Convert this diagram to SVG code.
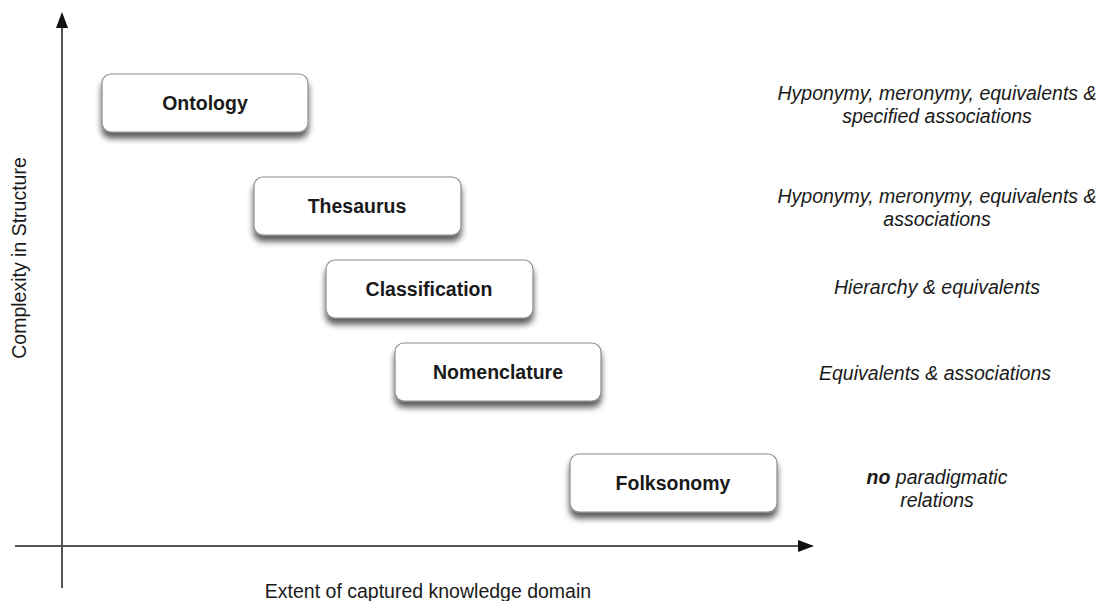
<svg xmlns="http://www.w3.org/2000/svg" width="1100" height="601" viewBox="0 0 1100 601">
  <style>
    .box { fill: #ffffff; stroke: #8a8a8a; stroke-width: 1.2; filter: url(#shadow); }
    .lbl { font-family: "Liberation Sans", Arial, sans-serif; font-size: 19.5px; font-weight: bold; fill: #1a1a1a; text-anchor: middle; }
    .rel { font-family: "Liberation Sans", Arial, sans-serif; font-size: 19.5px; font-style: italic; fill: #1a1a1a; text-anchor: middle; }
    .axt { font-family: "Liberation Sans", Arial, sans-serif; font-size: 19.5px; fill: #1a1a1a; text-anchor: middle; }
    .axis { stroke: #555555; stroke-width: 2; fill: none; }
  </style>
  <defs>
    <filter id="shadow" x="-20%" y="-30%" width="140%" height="170%">
      <feGaussianBlur in="SourceAlpha" stdDeviation="3"/>
      <feOffset dx="0" dy="6" result="b"/>
      <feComponentTransfer><feFuncA type="linear" slope="0.65"/></feComponentTransfer>
      <feMerge><feMergeNode/><feMergeNode in="SourceGraphic"/></feMerge>
    </filter>
    <marker id="arrowBig" viewBox="0 0 16 12" refX="14" refY="6" markerWidth="16" markerHeight="12" orient="auto" markerUnits="userSpaceOnUse">
      <path d="M0,0 L16,6 L0,12 z" fill="#111"/>
    </marker>
  </defs>
  <rect width="1100" height="601" fill="#ffffff"/>

  <g id="connectors">
    <line class="axis" x1="62" y1="588" x2="62" y2="14" marker-end="url(#arrowBig)"/>
    <line class="axis" x1="15" y1="546" x2="812" y2="546" marker-end="url(#arrowBig)"/>
  </g>

  <g id="axis-labels">
    <text class="axt" transform="translate(26,258) rotate(-90)">Complexity in Structure</text>
    <text class="axt" x="428" y="598">Extent of captured knowledge domain</text>
  </g>

  <g id="ontology">
    <rect class="box" x="102" y="74" width="206" height="58" rx="9"/>
    <text class="lbl" x="205" y="110">Ontology</text>
  </g>
  <g id="thesaurus">
    <rect class="box" x="254" y="177" width="207" height="58" rx="9"/>
    <text class="lbl" x="357" y="213">Thesaurus</text>
  </g>
  <g id="classification">
    <rect class="box" x="326" y="260" width="207" height="58" rx="9"/>
    <text class="lbl" x="429" y="296">Classification</text>
  </g>
  <g id="nomenclature">
    <rect class="box" x="395" y="343" width="206" height="58" rx="9"/>
    <text class="lbl" x="498" y="379">Nomenclature</text>
  </g>
  <g id="folksonomy">
    <rect class="box" x="570" y="454" width="207" height="58" rx="9"/>
    <text class="lbl" x="673" y="490">Folksonomy</text>
  </g>

  <g id="relations">
    <text class="rel" x="937" y="100">Hyponymy, meronymy, equivalents &amp;</text>
    <text class="rel" x="937" y="123">specified associations</text>
    <text class="rel" x="937" y="203">Hyponymy, meronymy, equivalents &amp;</text>
    <text class="rel" x="937" y="226">associations</text>
    <text class="rel" x="937" y="294">Hierarchy &amp; equivalents</text>
    <text class="rel" x="935" y="380">Equivalents &amp; associations</text>
    <text class="rel" x="937" y="484"><tspan font-weight="bold">no</tspan> paradigmatic</text>
    <text class="rel" x="937" y="507">relations</text>
  </g>
</svg>
